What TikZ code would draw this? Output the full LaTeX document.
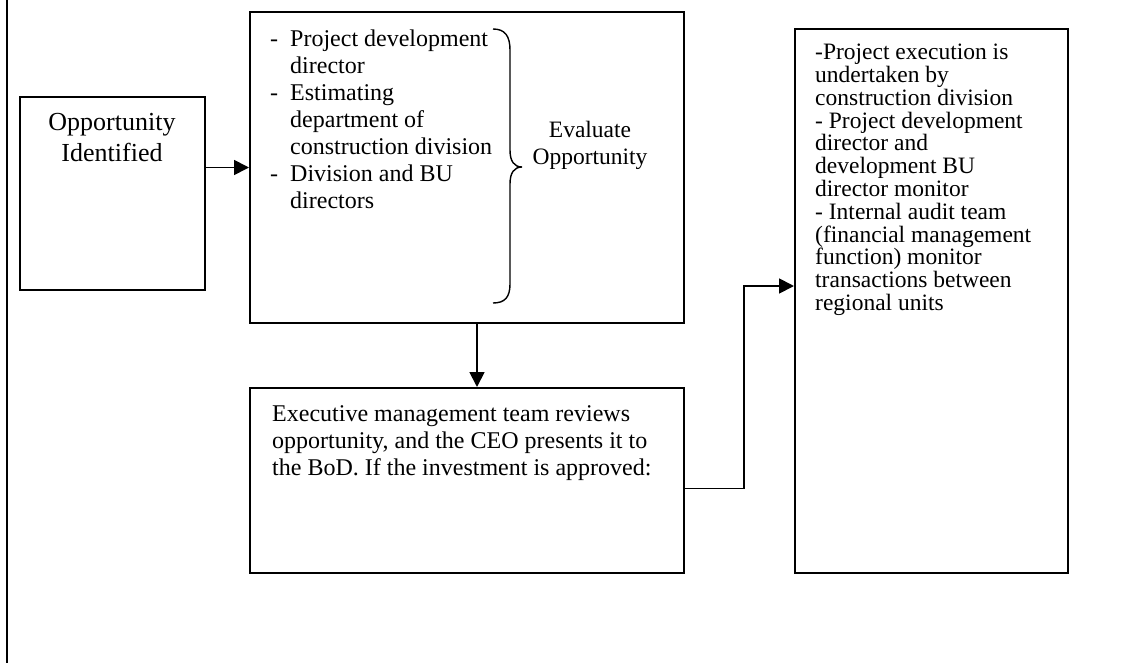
\documentclass[tikz,border=0pt]{standalone}
\usepackage{fontspec}
\setmainfont{Liberation Serif}
\usetikzlibrary{arrows.meta}

\begin{document}
\begin{tikzpicture}[x=1pt,y=-1pt,>={Triangle[length=15pt,width=15pt]},
  box/.style={draw,line width=2pt,inner sep=0pt},
  txt/.style={anchor=north west,inner sep=0pt,align=left,font=\fontsize{24}{27}\selectfont},
  link/.style={->,line width=1.8pt}]
  \useasboundingbox (0,0) rectangle (1122,664);
  \draw[line width=2.2pt] (7,0) -- (7,663);

  % boxes
  \node[box,minimum width=185pt,minimum height=193pt] (opp) at (112.5,193.5) {};
  \node[box,minimum width=434pt,minimum height=311pt] (eval) at (467,167.5) {};
  \node[box,minimum width=434pt,minimum height=185pt] (exec) at (467,480.5) {};
  \node[box,minimum width=273pt,minimum height=544pt] (run) at (931.5,301) {};

  % texts
  \node[txt,anchor=north,align=center,font=\fontsize{26}{31}\selectfont] (opptxt) at (112,113)
    {Opportunity\\Identified};
  \node[txt] (evalwho) at (270,30)
    {\makebox[20pt][l]{-}Project development\\\hspace*{20pt}director\\
     \makebox[20pt][l]{-}Estimating\\\hspace*{20pt}department of\\
     \hspace*{20pt}construction division\\
     \makebox[20pt][l]{-}Division and BU\\\hspace*{20pt}directors};
  \node[txt,anchor=north,align=center,font=\fontsize{23.5}{27}\selectfont] (evaltxt) at (590,121)
    {Evaluate\\Opportunity};
  \node[txt] (exectxt) at (272,405)
    {Executive management team reviews\\
     opportunity, and the CEO presents it to\\
     the BoD. If the investment is approved:};
  \node[txt,font=\fontsize{23.5}{22.8}\selectfont] (runtxt) at (815,44)
    {-Project execution is\\undertaken by\\construction division\\
     - Project development\\director and\\development BU\\director monitor\\
     - Internal audit team\\(financial management\\function) monitor\\
     transactions between\\regional units};

  % brace
  \draw[line width=1.4pt] (493,29) .. controls (505,29) and (510,36) .. (510,50)
    -- (510,150) .. controls (510,161) and (514,167) .. (522,167)
    .. controls (514,167) and (510,173) .. (510,184)
    -- (510,284) .. controls (510,297) and (505,303) .. (493,303);

  % connectors
  \draw[link] (opp.east |- eval.west) -- (eval.west);
  \draw[link] ([xshift=10pt]eval.south) -- ([xshift=10pt]exec.north);
  \draw[link] ([yshift=-8pt]exec.east) -- ++(59,0) |- ([yshift=15pt]run.west);
\end{tikzpicture}
\end{document}
